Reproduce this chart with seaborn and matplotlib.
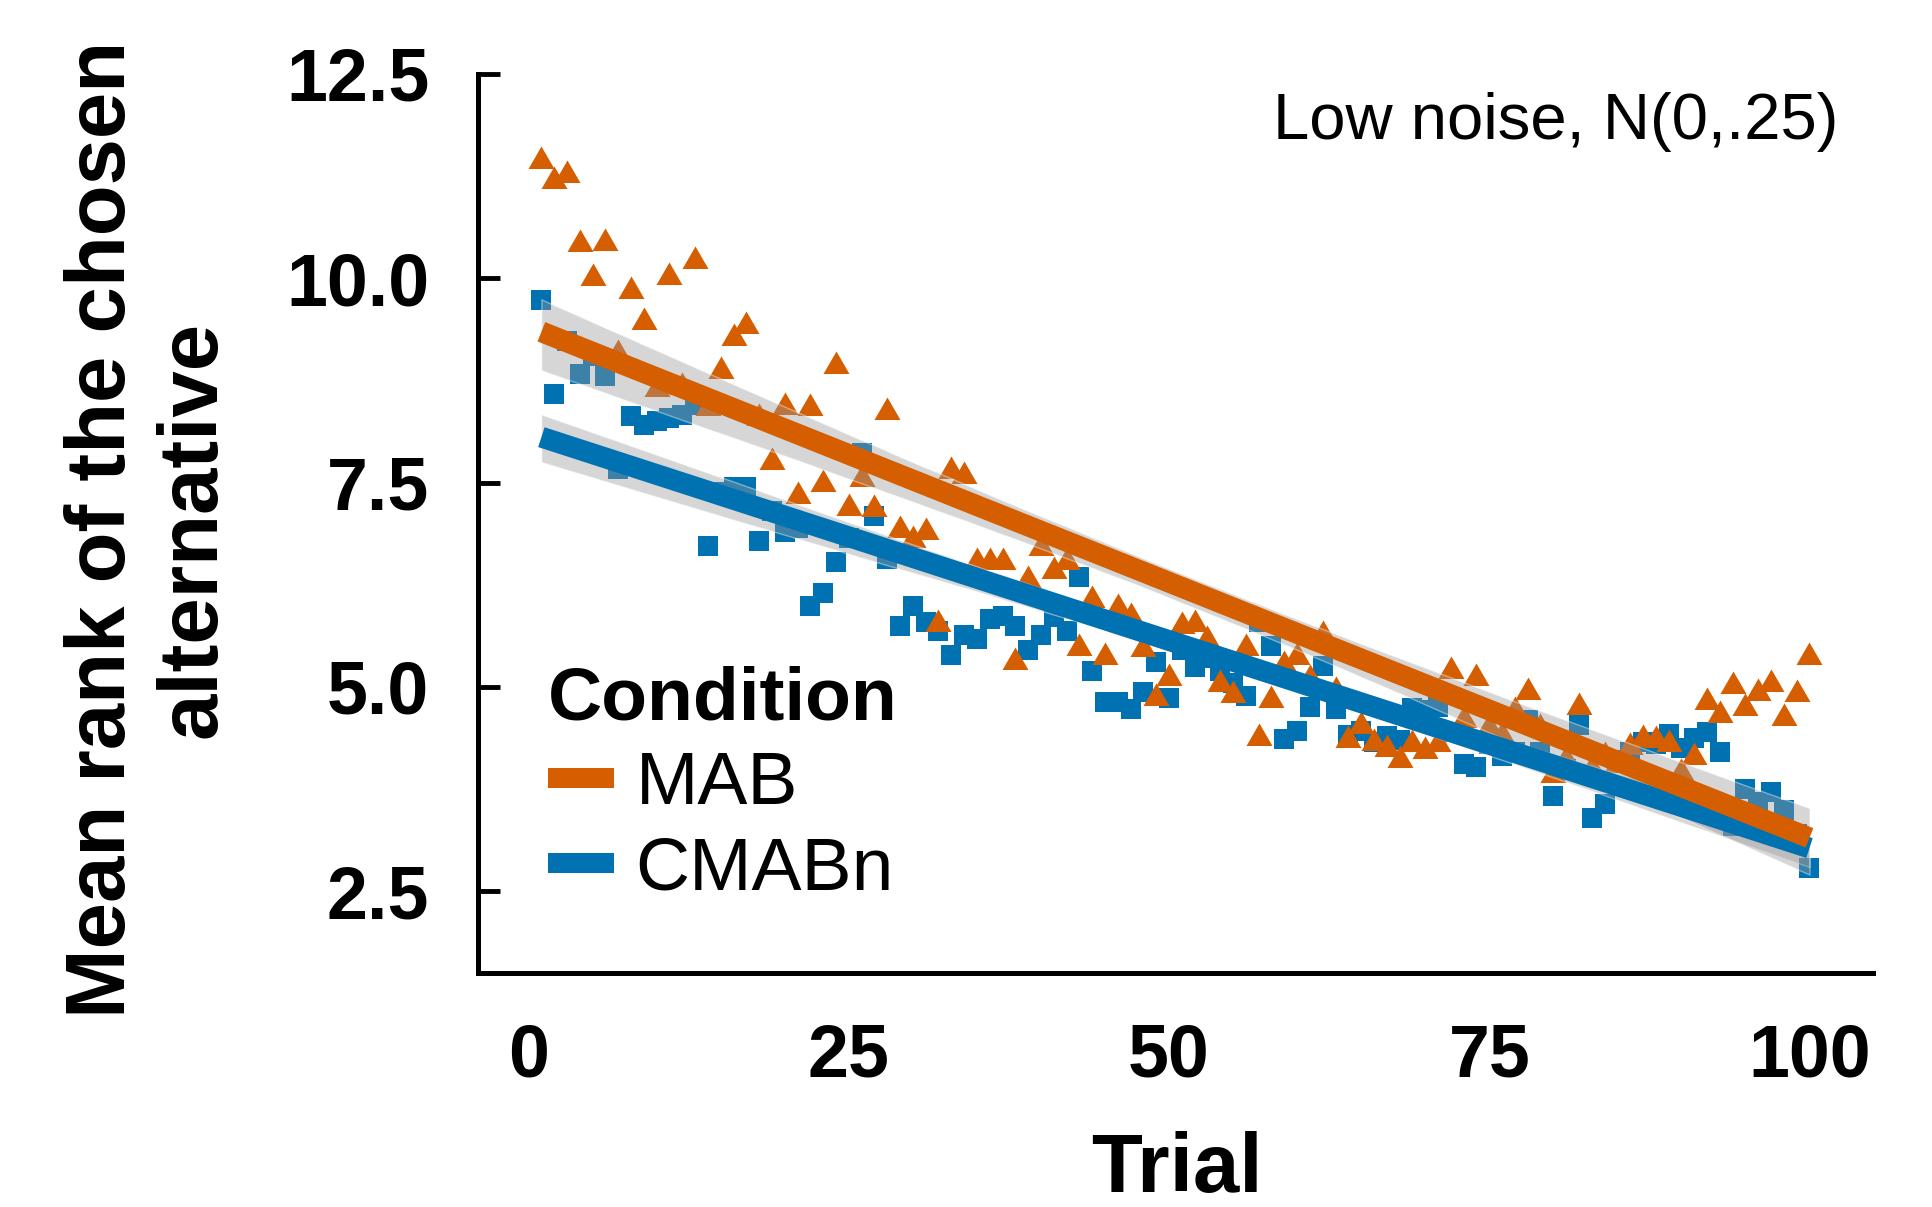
import matplotlib
matplotlib.use("Agg")
import matplotlib.pyplot as plt
from matplotlib.lines import Line2D
import numpy as np
import pandas as pd
import seaborn as sns

# ---------------- data ----------------
trials = list(range(1, 101))

mab = [11.44, 11.19, 11.27, 10.42, 10.00, 10.43, 9.07, 9.85, 9.46, 8.65,
       10.02, 8.67, 10.21, 8.41, 8.87, 9.27, 9.42, 8.29, 7.75, 8.43,
       7.34, 8.41, 7.48, 8.93, 7.19, 7.55, 7.18, 8.36, 6.92, 6.80,
       6.90, 5.77, 7.64, 7.58, 6.53, 6.53, 6.53, 5.30, 6.31, 6.70,
       6.42, 6.53, 5.48, 6.06, 5.37, 5.96, 5.86, 5.47, 4.87, 5.11,
       5.75, 5.77, 5.57, 5.04, 4.90, 5.48, 4.37, 4.84, 5.27, 5.37,
       5.10, 5.63, 4.95, 4.35, 4.52, 4.31, 4.24, 4.11, 4.30, 4.22,
       4.30, 5.19, 4.60, 5.11, 4.50, 4.40, 4.70, 4.94, 4.50, 3.92,
       4.10, 4.75, 4.00, 4.15, 4.05, 4.26, 4.36, 4.35, 4.30, 3.95,
       4.14, 4.82, 4.66, 5.01, 4.74, 4.92, 5.03, 4.62, 4.91, 5.37]

cmabn = [9.73, 8.58, 9.23, 8.83, 9.05, 8.80, 7.67, 8.32, 8.20, 8.25,
         8.29, 8.33, 8.45, 6.73, 7.39, 7.45, 7.45, 6.78, 7.15, 6.90,
         6.94, 5.99, 6.15, 6.53, 6.82, 7.86, 7.09, 6.57, 5.75, 5.99,
         5.80, 5.68, 5.39, 5.64, 5.59, 5.83, 5.87, 5.74, 5.45, 5.63,
         5.86, 5.68, 6.35, 5.19, 4.81, 4.82, 4.73, 4.94, 5.31, 4.87,
         5.45, 5.24, 5.35, 5.20, 5.05, 4.89, 5.79, 5.50, 4.36, 4.46,
         4.75, 5.25, 4.73, 4.41, 4.46, 4.33, 4.40, 4.35, 4.74, 4.72,
         4.75, 4.45, 4.06, 4.02, 4.30, 4.16, 4.20, 4.60, 4.20, 3.66,
         4.00, 4.53, 3.40, 3.57, 4.10, 4.20, 4.33, 4.30, 4.42, 4.25,
         4.37, 4.45, 4.20, 3.30, 3.75, 3.59, 3.71, 3.50, 3.20, 2.78]

conditions = ["MAB", "CMABn"]
x_ticks = [0, 25, 50, 75, 100]
y_ticks = [2.5, 5.0, 7.5, 10.0, 12.5]
y_tick_labels = ["2.5", "5.0", "7.5", "10.0", "12.5"]
panel_label = "Low noise, N(0,.25)"
x_label = "Trial"
y_label = "Mean rank of the chosen\nalternative"
legend_title = "Condition"

# ---------------- styling ----------------
colors = {"MAB": "#D55E00", "CMABn": "#0072B2"}
tri = [(0.0, 0.577), (-0.5, -0.289), (0.5, -0.289)]
markers = {"MAB": tri, "CMABn": "s"}
msizes = {"MAB": 467, "CMABn": 228}

df = pd.DataFrame({
    "Trial": trials * 2,
    "Rank": mab + cmabn,
    "Condition": ["MAB"] * len(mab) + ["CMABn"] * len(cmabn),
})

sns.set_style("ticks")
plt.rcParams["font.family"] = ["Liberation Sans", "DejaVu Sans"]
plt.rcParams["text.color"] = "black"
plt.rcParams["axes.labelcolor"] = "black"
plt.rcParams["xtick.color"] = "black"
plt.rcParams["ytick.color"] = "black"
plt.rcParams["axes.edgecolor"] = "black"

fig = plt.figure(figsize=(19.32, 12.07), dpi=100)
ax = fig.add_axes([0.2474, 0.1939, 0.7220, 0.7448])

draw_order = ["CMABn", "MAB"]
for cond in draw_order:
    sub = df[df["Condition"] == cond]
    sns.scatterplot(data=sub, x="Trial", y="Rank", marker=markers[cond],
                    color=colors[cond], s=msizes[cond], linewidth=0,
                    ax=ax, legend=False, zorder=1)

for cond in draw_order:
    sub = df[df["Condition"] == cond]
    n_before = len(ax.collections)
    sns.regplot(data=sub, x="Trial", y="Rank", scatter=False, ax=ax,
                color=colors[cond], seed=0, n_boot=2000,
                line_kws={"lw": 15, "solid_capstyle": "butt", "zorder": 3})
    for coll in ax.collections[n_before:]:
        coll.set_facecolor("#999999")
        coll.set_alpha(0.4)
        coll.set_zorder(2)

ax.set_xlim(-3.95, 104.95)
ax.set_ylim(1.5, 12.5)
ax.set_xticks(x_ticks)
ax.set_xticklabels([str(v) for v in x_ticks], fontsize=53, fontweight="bold",
                   color="black")
ax.set_yticks(y_ticks)
ax.set_yticklabels(y_tick_labels, fontsize=53, fontweight="bold",
                   color="black")
ax.tick_params(axis="y", direction="in", length=15.8, width=3.5, pad=35,
               color="black")
ax.tick_params(axis="x", length=0, pad=36)

for side in ["top", "right"]:
    ax.spines[side].set_visible(False)
for side in ["left", "bottom"]:
    ax.spines[side].set_linewidth(3.6)
    ax.spines[side].set_color("black")

ax.set_xlabel(x_label, fontsize=60, fontweight="bold", color="black")
ax.xaxis.set_label_coords(0.501, -0.176)
ax.set_ylabel(y_label, fontsize=60, fontweight="bold", color="black")
ax.yaxis.label.set_verticalalignment("center")
ax.yaxis.set_label_coords(-0.2366, 0.493)

ax.text(0.975, 0.9277, panel_label, transform=ax.transAxes, ha="right",
        va="baseline", fontsize=47, color="black")

handles = [Line2D([], [], color=colors[c], lw=14.4, marker=markers[c],
                  markersize=11, solid_capstyle="butt") for c in conditions]
leg = ax.legend(handles, conditions, title=legend_title, loc="upper left",
                bbox_to_anchor=(0.050, 0.342), frameon=False, fontsize=54,
                title_fontproperties={"weight": "bold", "size": 54},
                handlelength=0.88, handletextpad=0.29, labelspacing=0.21,
                borderpad=0, borderaxespad=0, alignment="left")
for t in leg.get_texts():
    t.set_color("black")
leg.get_title().set_color("black")

fig.savefig("out.png", dpi=100, facecolor="white")
